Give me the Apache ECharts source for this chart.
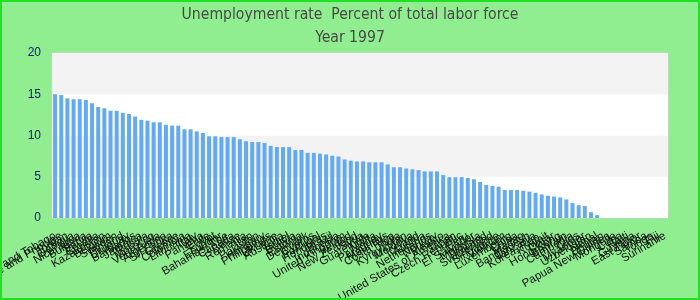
<!DOCTYPE html>
<html>
<head>
<meta charset="utf-8">
<script src="https://cdn.jsdelivr.net/npm/echarts@6/dist/echarts.min.js"></script>
<style>
  html, body { margin: 0; padding: 0; }
  #chart { width: 700px; height: 300px; box-sizing: border-box; border: 2px solid #22e022; background: #90ee90; }
</style>
</head>
<body>
<div id="chart"></div>
<script>
var countries = [
  'Trinidad and Tobago', 'Sao Tome and Principe', 'Jordan', 'Georgia', 'Nicaragua',
  'Bulgaria', 'Latvia', 'Croatia', 'Kazakhstan', 'Belgium',
  'Sweden', 'Finland', 'Uruguay', 'Barbados', 'Jamaica',
  'Russia', 'Morocco', 'Venezuela', 'Argentina', 'Sri Lanka',
  'Greece', 'Colombia', 'Lithuania', 'Italy', 'Panama',
  'Chile', 'Egypt', 'Ecuador', 'Bahamas, The', 'Canada',
  'Belize', 'Romania', 'Iran', 'Pakistan', 'Hungary',
  'Philippines', 'Ukraine', 'Australia', 'Israel', 'Bolivia',
  'Estonia', 'Denmark', 'Cyprus', 'Portugal', 'Honduras',
  'Brazil', 'Indonesia', 'United Kingdom', 'Ireland', 'New Zealand',
  'Syria', 'Guatemala', 'Malta', 'Paraguay', 'Mauritius',
  'Costa Rica', 'India', 'Kyrgyzstan', 'Moldova', 'Iceland',
  'Austria', 'Netherlands', 'Norway', 'Mexico', 'United States of America',
  'Japan', 'Czech Republic', 'Peru', 'El Salvador', 'Malaysia',
  'Thailand', 'Switzerland', 'Singapore', 'Vietnam', 'Luxembourg',
  'China', 'Macao', 'Bangladesh', 'Tanzania', 'Korea, Rep.',
  'Kuwait', 'Qatar', 'Hong Kong', 'Bahrain', 'Cambodia',
  'Laos', 'Myanmar', 'Uzbekistan', 'Nepal', 'Bhutan',
  'Papua New Guinea', 'Mongolia', 'Cuba', 'Haiti', 'Guyana',
  'East Timor', 'Samoa', 'Tonga', 'Fiji', 'Suriname'
];

// percent of total labor force, 1997 ('-' = no data)
var rates = [
  15.0, 14.9, 14.5, 14.4, 14.4, 14.3, 13.9, 13.45, 13.3, 13.0,
  13.0, 12.75, 12.6, 12.3, 11.9, 11.8, 11.6, 11.6, 11.3, 11.2,
  11.2, 10.75, 10.75, 10.5, 10.3, 9.9, 9.9, 9.8, 9.8, 9.8,
  9.55, 9.3, 9.2, 9.2, 9.1, 8.75, 8.6, 8.6, 8.6, 8.25,
  8.25, 7.9, 7.9, 7.8, 7.7, 7.55, 7.45, 7.1, 6.95, 6.85,
  6.85, 6.75, 6.75, 6.75, 6.5, 6.15, 6.15, 6.0, 5.9, 5.8,
  5.65, 5.65, 5.65, 5.2, 4.95, 4.95, 4.95, 4.85, 4.7, 4.35,
  4.0, 3.9, 3.8, 3.4, 3.4, 3.4, 3.3, 3.2, 3.05, 2.85,
  2.7, 2.6, 2.5, 2.25, 1.8, 1.55, 1.45, 0.7, 0.35, '-',
  '-', '-', '-', '-', '-', '-', '-', '-', '-', '-'
];

var yTicks = [0, 5, 10, 15, 20];

var myChart = echarts.init(document.getElementById('chart'));
var option = {
  backgroundColor: 'transparent',
  title: {
    text: 'Unemployment rate  Percent of total labor force\nYear 1997',
    left: 'center',
    top: 1,
    padding: 0,
    textStyle: {
      color: '#484848',
      fontFamily: "'DejaVu Sans Condensed', 'Liberation Sans'",
      fontSize: 15.6,
      fontWeight: 'normal',
      lineHeight: 23
    }
  },
  grid: {
    left: 50,
    right: 30,
    top: 51,
    bottom: 80,
    outerBoundsMode: 'none',
    containLabel: false,
    show: true,
    backgroundColor: '#fff',
    borderColor: '#d0d0d0',
    borderWidth: 1
  },
  xAxis: {
    type: 'category',
    data: countries,
    axisLine: { show: false },
    axisTick: { show: false },
    axisLabel: {
      interval: 0,
      rotate: 30,
      color: '#111',
      fontFamily: 'Liberation Sans',
      fontSize: 11.5,
      margin: 17
    }
  },
  yAxis: {
    type: 'value',
    min: yTicks[0],
    max: yTicks[yTicks.length - 1],
    interval: 5,
    axisLine: { show: false },
    axisTick: { show: false },
    splitLine: { show: false },
    splitArea: {
      show: true,
      areaStyle: { color: ['#ffffff', '#f3f3f3'] }
    },
    axisLabel: {
      color: '#14148c',
      fontFamily: 'Liberation Sans',
      fontSize: 12,
      margin: 11
    }
  },
  series: [
    {
      type: 'bar',
      data: rates,
      barWidth: '65%',
      itemStyle: { color: '#64aaf0' }
    }
  ]
};
myChart.setOption(option);
</script>
</body>
</html>
